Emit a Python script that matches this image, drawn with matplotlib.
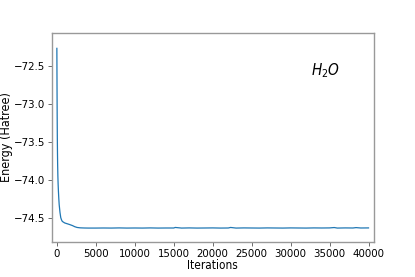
import numpy as np
import matplotlib
matplotlib.use('Agg')
import matplotlib.pyplot as plt
from matplotlib import rcParams

rcParams['font.family'] = ['DejaVu Sans']
rcParams['font.stretch'] = 'condensed'

# iterations / energy
iterations = [0, 20, 40, 60, 80, 100, 130, 160, 200, 250, 300, 400, 500, 600, 700,
              850, 1000, 1300, 1600, 2000, 2300, 2600, 3000, 3500, 4000, 5000,
              6000, 7000, 8000, 9000, 10000, 11000, 12000, 13000, 14000, 15000,
              15200, 16000, 17000, 18000, 19000, 20000, 21000, 22000, 22300,
              23000, 24000, 25000, 26000, 27000, 28000, 29000, 30000, 31000,
              32000, 33000, 34000, 35000, 35600, 36000, 37000, 38000, 38400,
              39000, 40000]
energy = [-72.26, -72.75, -73.15, -73.45, -73.65, -73.80, -73.95, -74.05, -74.15,
          -74.25, -74.33, -74.43, -74.50, -74.53, -74.55,
          -74.56, -74.57, -74.58, -74.59, -74.605, -74.62, -74.63, -74.635, -74.637, -74.638, -74.638,
          -74.637, -74.638, -74.636, -74.638, -74.637, -74.638, -74.636, -74.638, -74.637, -74.637,
          -74.630, -74.638, -74.636, -74.638, -74.637, -74.636, -74.638, -74.637, -74.630,
          -74.638, -74.636, -74.637, -74.638, -74.636, -74.637, -74.638, -74.636, -74.637,
          -74.638, -74.636, -74.637, -74.636, -74.631, -74.638, -74.636, -74.637, -74.632,
          -74.637, -74.636]

fig = plt.figure(figsize=(4.15, 2.77), dpi=100)
ax = fig.add_subplot(111)
ax.plot(iterations, energy, color='#1f77b4', linewidth=0.9)

ax.set_xlim(-640, 40640)
ax.set_ylim(-74.82, -72.06)
ax.set_xticks([0, 5000, 10000, 15000, 20000, 25000, 30000, 35000, 40000])
ax.set_yticks([-74.5, -74.0, -73.5, -73.0, -72.5])
ax.tick_params(labelsize=8.2, length=3, width=0.6, color='#555555', pad=2)
for s in ax.spines.values():
    s.set_color('#999999')
    s.set_linewidth(1.0)

ax.set_xlabel('Iterations', fontsize=8.5, labelpad=0)
ax.set_ylabel('Energy (Hatree)', fontsize=9)
ax.yaxis.set_label_coords(-0.12, 0.5)
ax.text(0.85, 0.82, r'$H_2O$', transform=ax.transAxes, fontsize=11, ha='center', va='center')

fig.subplots_adjust(left=0.125, right=0.9, top=0.88, bottom=0.127)
fig.savefig('out.png', dpi=100)
